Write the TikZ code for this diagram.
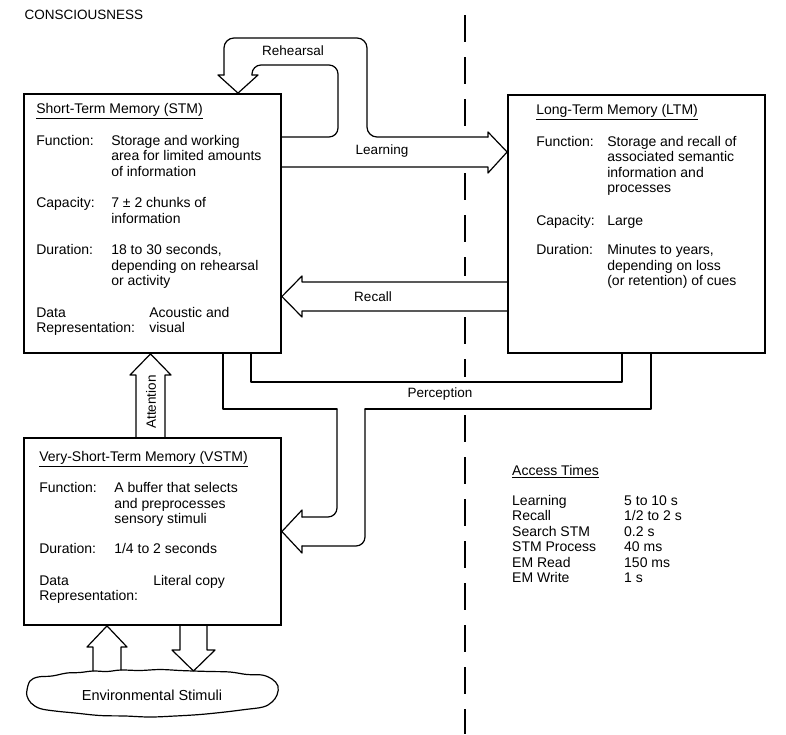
\documentclass[tikz,border=0pt]{standalone}
\usepackage{fontspec}
\setmainfont{Liberation Sans}
\usetikzlibrary{positioning}

\newcommand{\memlbl}[2][75pt]{\makebox[#1][l]{#2}}

\begin{document}
\begin{tikzpicture}[
    x=1pt, y=-1pt,
    membox/.style={rectangle, draw, line width=1.8pt, minimum width=257pt},
    memtext/.style={anchor=north west, inner sep=0pt, align=left, font=\fontsize{14}{15.5}\selectfont},
    lbl/.style={inner sep=1pt, font=\fontsize{13.5}{15}\selectfont},
    band/.style={line width=1.2pt, line join=round, line cap=round},
    divider/.style={line width=2.6pt, dash pattern=on 27pt off 15pt}
]
\useasboundingbox (0,0) rectangle (786,734);

\node[lbl, anchor=west] (title) at (23.5,15) {CONSCIOUSNESS};

% Divider between the two memories
\draw[divider] (465,15) -- (465,131);
\draw[divider] (465,173) -- (465,276);
\draw[divider] (465,317) -- (465,377);
\draw[divider] (465,415) -- (465,734);

% Memory stores
\node[membox, minimum height=259pt] (stm) at (152.5,223.5) {};
\node[membox, minimum height=258pt] (ltm) at (636.5,224) {};
\node[membox, minimum height=187pt] (vstm) at (152.5,531.5) {};

% Environment
\node[lbl, font=\fontsize{14.5}{16}\selectfont] (stimuli) at (152,695) {Environmental Stimuli};
\draw[band] plot[smooth cycle, tension=0.6] coordinates {
  (27,690) (30,681) (38,677) (52,676) (67,673) (80,672.5) (93,671) (107,671.5)
  (121,670) (140,670.5) (160,669.5) (180,670.5) (193.5,671) (210,671.5) (230,672)
  (247,674.5) (262,675) (272,679) (278,686) (277,695) (272,702) (263,707)
  (245,709.5) (225,712) (200,714.5) (175,716) (150,717) (125,716) (100,715.5)
  (75,713) (55,711) (40,708.5) (31,703) (27,696)};

% Texts of the stores
\node[memtext] (stmtext) at ([shift={(13,10.5)}]stm.north west) {%
  \underline{Short-Term Memory (STM)}\\[16pt]
  \memlbl{Function:}Storage and working\\
  \memlbl{}area for limited amounts\\
  \memlbl{}of information\\[16pt]
  \memlbl{Capacity:}7 ± 2 chunks of\\
  \memlbl{}information\\[16pt]
  \memlbl{Duration:}18 to 30 seconds,\\
  \memlbl{}depending on rehearsal\\
  \memlbl{}or activity\\[16pt]
  \memlbl[113pt]{Data}Acoustic and\\
  \memlbl[113pt]{Representation:}visual};
\node[memtext] (ltmtext) at ([shift={(29,10.5)}]ltm.north west) {%
  \underline{Long-Term Memory (LTM)}\\[16pt]
  \memlbl[71pt]{Function:}Storage and recall of\\
  \memlbl[71pt]{}associated semantic\\
  \memlbl[71pt]{}information and\\
  \memlbl[71pt]{}processes\\[17pt]
  \memlbl[71pt]{Capacity:}Large\\[14pt]
  \memlbl[71pt]{Duration:}Minutes to years,\\
  \memlbl[71pt]{}depending on loss\\
  \memlbl[71pt]{}(or retention) of cues};
\node[memtext] (vstmtext) at ([shift={(16,14)}]vstm.north west) {%
  \underline{Very-Short-Term Memory (VSTM)}\\[16pt]
  \memlbl{Function:}A buffer that selects\\
  \memlbl{}and preprocesses\\
  \memlbl{}sensory stimuli\\[14.5pt]
  \memlbl{Duration:}1/4 to 2 seconds\\[16pt]
  \memlbl[114pt]{Data}Literal copy\\
  Representation:};
\node[memtext] (access) at (512,465) {%
  \underline{Access Times}\\[14.5pt]
  \memlbl[112pt]{Learning}5 to 10 s\\
  \memlbl[112pt]{Recall}1/2 to 2 s\\
  \memlbl[112pt]{Search STM}0.2 s\\
  \memlbl[112pt]{STM Process}40 ms\\
  \memlbl[112pt]{EM Read}150 ms\\
  \memlbl[112pt]{EM Write}1 s};

% Rehearsal and learning
\draw[band, rounded corners=9pt] (stm.east |- 0,137) -- (338,137) -- (338,65) -- (252,65) -- (252,75);
\draw[band] (252,75) -- (258,75) -- (stm.north -| 238,0) -- (218,75) -- (224,75);
\draw[band, rounded corners=10pt] (224,75) -- (224,38) -- (367,38) -- (367,137) -- (488,137);
\draw[band] (488,137) -- (488,132) -- (ltm.west |- 0,152) -- (488,173) -- (488,167) -- (stm.east |- 0,167);
\node[lbl] (rehearsal) at (293,51) {Rehearsal};
\node[lbl] (learning) at (382,151) {Learning};

% Recall
\draw[band] (ltm.west |- 0,282) -- (302,282) -- (302,276) -- (stm.east |- 0,296.5) -- (302,317) -- (302,311) -- (ltm.west |- 0,311);
\node[lbl] (recall) at (373,297) {Recall};

% Perception
\draw[band] (stm.south -| 251,0) -- (251,382) -- (622,382) -- (ltm.south -| 622,0);
\draw[band] (stm.south -| 223,0) -- (223,409) -- (337,409);
\draw[band, rounded corners=9pt] (337,409) -- (337,517) -- (302,517);
\draw[band] (302,517) -- (302,510) -- (vstm.east |- 0,531.5) -- (302,553) -- (302,546);
\draw[band, rounded corners=9pt] (302,546) -- (365,546) -- (365,409);
\draw[band] (365,409) -- (651,409) -- (ltm.south -| 651,0);
\node[lbl] (perception) at (440,394) {Perception};

% Attention
\draw[band] (vstm.north -| 136,0) -- (136,375) -- (130,375) -- (stm.south -| 150.5,0) -- (171,375) -- (165,375) -- (vstm.north -| 165,0);
\node[lbl, rotate=90] (attention) at (151,402) {Attention};

% Stimuli in and out
\draw[band] (93,671) -- (93,647) -- (87,647) -- (vstm.south -| 107,0) -- (127,647) -- (121,647) -- (121,670);
\draw[band] (vstm.south -| 180,0) -- (180,650) -- (172,650) -- (193.5,671) -- (215,650) -- (207,650) -- (vstm.south -| 207,0);

\end{tikzpicture}
\end{document}
